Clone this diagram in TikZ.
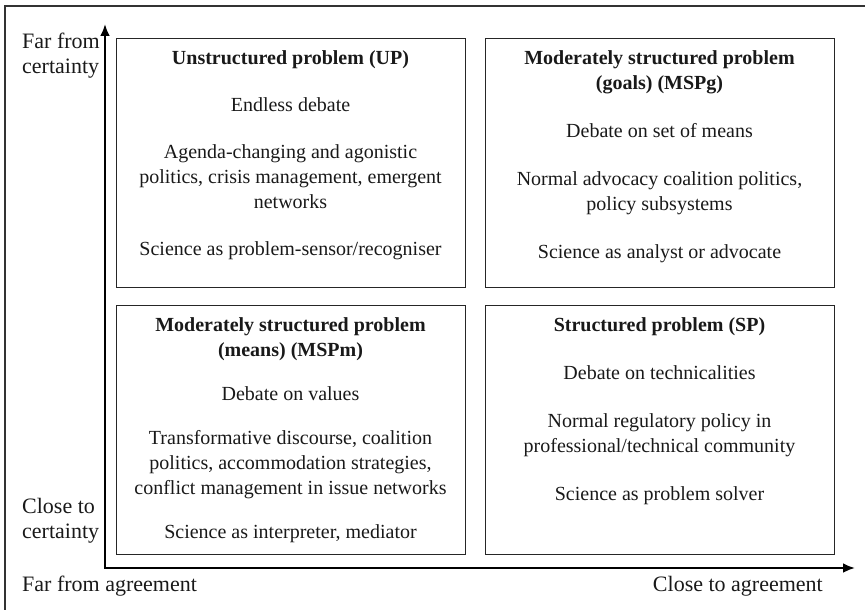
\documentclass[tikz,border=0pt]{standalone}
\usepackage{fontspec}
\setmainfont{Liberation Serif}
\usetikzlibrary{arrows.meta, positioning}

\begin{document}
\begin{tikzpicture}[x = 1pt, y = -1pt,
    cell/.style = {draw = black!85, line width = 0.9pt, minimum width = 349pt, minimum height = 249pt, inner sep = 0pt},
    celltext/.style = {align = center, inner sep = 0pt, text = black!90, font = \fontsize{20}{25}\selectfont},
    axislabel/.style = {align = left, inner sep = 0pt, text = black!90, font = \fontsize{22}{25}\selectfont},
    axis/.style = {line width = 2.6pt, {Latex[length = 12pt, width = 10pt]}-{Latex[length = 12pt, width = 10pt]}}]
  \useasboundingbox (0,0) rectangle (865,610);
  \draw[black!80, line width = 1.3pt] (5,610) |- (865,6);

  \coordinate (origin) at (105,568);
  \coordinate (ytip)   at (105,24);
  \coordinate (xtip)   at (855,568);
  \draw[axis] (ytip) |- (xtip);

  \node[cell] (up)   at (290.5,162.5) {};
  \node[cell] (mspg) at (659.5,162.5) {};
  \node[cell] (mspm) at (290.5,429.5) {};
  \node[cell] (sp)   at (659.5,429.5) {};

  \node[celltext, below = 9.5pt of up.north] (upText)
    {\strut\textbf{Unstructured problem (UP)}\\[22pt]
     Endless debate\\[22pt]
     Agenda-changing and agonistic\\
     politics, crisis management, emergent\\
     networks\\[22pt]
     Science as problem-sensor/recogniser};
  \node[celltext, below = 9.5pt of mspg.north] (mspgText)
    {\strut\textbf{Moderately structured problem}\\
     \textbf{(goals) (MSPg)}\\[23pt]
     Debate on set of means\\[23pt]
     Normal advocacy coalition politics,\\
     policy subsystems\\[23pt]
     Science as analyst or advocate};
  \node[celltext, below = 9.5pt of mspm.north] (mspmText)
    {\strut\textbf{Moderately structured problem}\\
     \textbf{(means) (MSPm)}\\[19pt]
     Debate on values\\[19pt]
     Transformative discourse, coalition\\
     politics, accommodation strategies,\\
     conflict management in issue networks\\[19pt]
     Science as interpreter, mediator};
  \node[celltext, below = 9.5pt of sp.north] (spText)
    {\strut\textbf{Structured problem (SP)}\\[23pt]
     Debate on technicalities\\[23pt]
     Normal regulatory policy in\\
     professional/technical community\\[23pt]
     Science as problem solver};

  \node[axislabel, anchor = north west] (farCertainty) at (22,30.5) {\strut Far from\\certainty};
  \node[axislabel, anchor = north west] (closeCertainty) at (22,495.5) {\strut Close to\\certainty};
  \node[axislabel, anchor = base west] (farAgreement) at (22,591) {Far from agreement};
  \node[axislabel, anchor = base east] (closeAgreement) at (823,591) {Close to agreement};
\end{tikzpicture}
\end{document}
